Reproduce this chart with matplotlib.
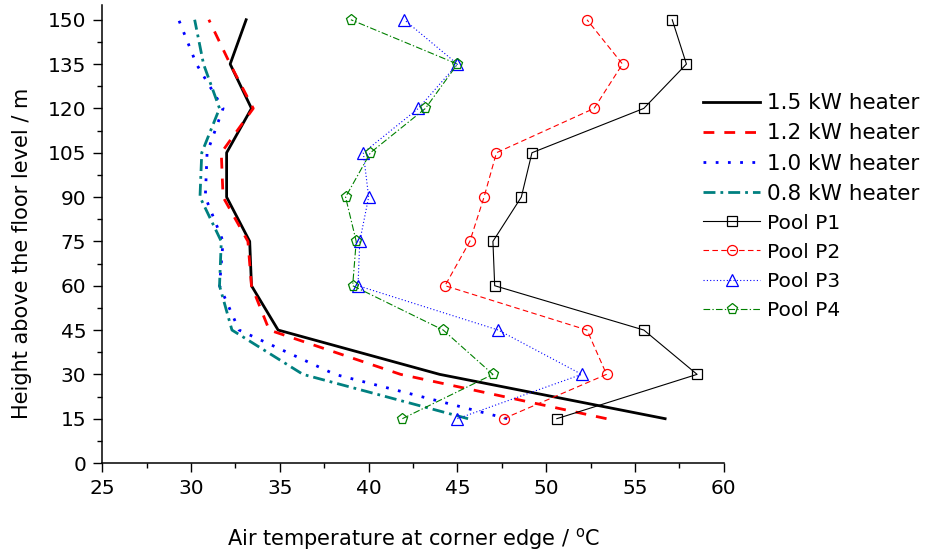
import matplotlib
matplotlib.use("Agg")
import matplotlib.pyplot as plt
from matplotlib.ticker import MultipleLocator

plt.rcParams['font.family'] = ['DejaVu Sans']

# heights above floor (m)
heights = [15, 30, 45, 60, 75, 90, 105, 120, 135, 150]

# heater simulations, air temperature at corner edge (C)
heater_15 = [56.7, 44.0, 34.9, 33.4, 33.3, 32.0, 32.0, 33.4, 32.2, 33.1]
heater_12 = [53.4, 41.8, 34.4, 33.4, 33.2, 31.8, 31.7, 33.5, 32.2, 31.0]
heater_10 = [47.8, 38.1, 32.7, 31.6, 31.8, 30.8, 30.9, 31.8, 30.3, 29.3]
heater_08 = [45.6, 36.3, 32.3, 31.6, 31.7, 30.5, 30.6, 31.6, 30.7, 30.2]

# pool fire measurements
pool_p1 = [50.6, 58.5, 55.5, 47.1, 47.0, 48.6, 49.2, 55.5, 57.9, 57.1]
pool_p2 = [47.6, 53.4, 52.3, 44.3, 45.7, 46.5, 47.2, 52.7, 54.3, 52.3]
pool_p3 = [45.0, 52.0, 47.3, 39.4, 39.5, 40.0, 39.7, 42.8, 45.0, 42.0]
pool_p4 = [41.9, 47.0, 44.2, 39.1, 39.3, 38.7, 40.1, 43.2, 45.0, 39.0]

fig = plt.figure(figsize=(9.27, 5.52), dpi=100)
ax = fig.add_axes([0.1104, 0.1612, 0.6703, 0.8298])

ax.plot(heater_15, heights, color='black', lw=2.0, label='1.5 kW heater')
ax.plot(heater_12, heights, color='red', lw=2.0, ls=(0, (3.9, 3.6)), label='1.2 kW heater')
ax.plot(heater_10, heights, color='blue', lw=2.0, ls=(0, (1, 3.4)), label='1.0 kW heater')
ax.plot(heater_08, heights, color='#008080', lw=2.0, ls=(0, (4.3, 1.8, 1, 1.8)), label='0.8 kW heater')

mk = dict(mfc='none', mew=0.9, lw=0.8)
ax.plot(pool_p1, heights, color='black', marker='s', ms=6.7, label='Pool P1', **mk)
ax.plot(pool_p2, heights, color='red', marker='o', ms=7.2, ls=(0, (5, 3)), label='Pool P2', **mk)
ax.plot(pool_p3, heights, color='blue', marker='^', ms=8.5, ls=(0, (1, 2)), label='Pool P3', **mk)
ax.plot(pool_p4, heights, color='green', marker='p', ms=8, ls=(0, (6, 2, 1.2, 2)), label='Pool P4', **mk)

ax.set_xlim(25, 60)
ax.set_ylim(0, 155)
ax.xaxis.set_major_locator(MultipleLocator(5))
ax.xaxis.set_minor_locator(MultipleLocator(2.5))
ax.yaxis.set_minor_locator(MultipleLocator(7.5))
ax.set_yticks([0, 15, 30, 45, 60, 75, 90, 105, 120, 135, 150])

for s in ['top', 'right']:
    ax.spines[s].set_visible(False)
for s in ['left', 'bottom']:
    ax.spines[s].set_linewidth(1.1)
ax.tick_params(which='major', direction='out', length=6.5, width=1.0, labelsize=14.5, pad=5)
ax.tick_params(which='minor', direction='out', length=3.5, width=1.0)

ax.set_xlabel('Air temperature at corner edge / $^\\mathregular{o}$C', fontsize=15)
ax.set_ylabel('Height above the floor level / m', fontsize=15)
ax.xaxis.set_label_coords(0.5, -0.138)
ax.yaxis.set_label_coords(-0.113, 0.4585)

leg = ax.legend(loc='upper left', bbox_to_anchor=(0.7584, 0.831), bbox_transform=fig.transFigure,
                frameon=False, fontsize=15.5, handlelength=2.65, handletextpad=0.32,
                labelspacing=0.47, borderpad=0, borderaxespad=0)
for t in leg.get_texts()[4:]:
    t.set_fontsize(14.5)

fig.savefig('out.png', dpi=100)
